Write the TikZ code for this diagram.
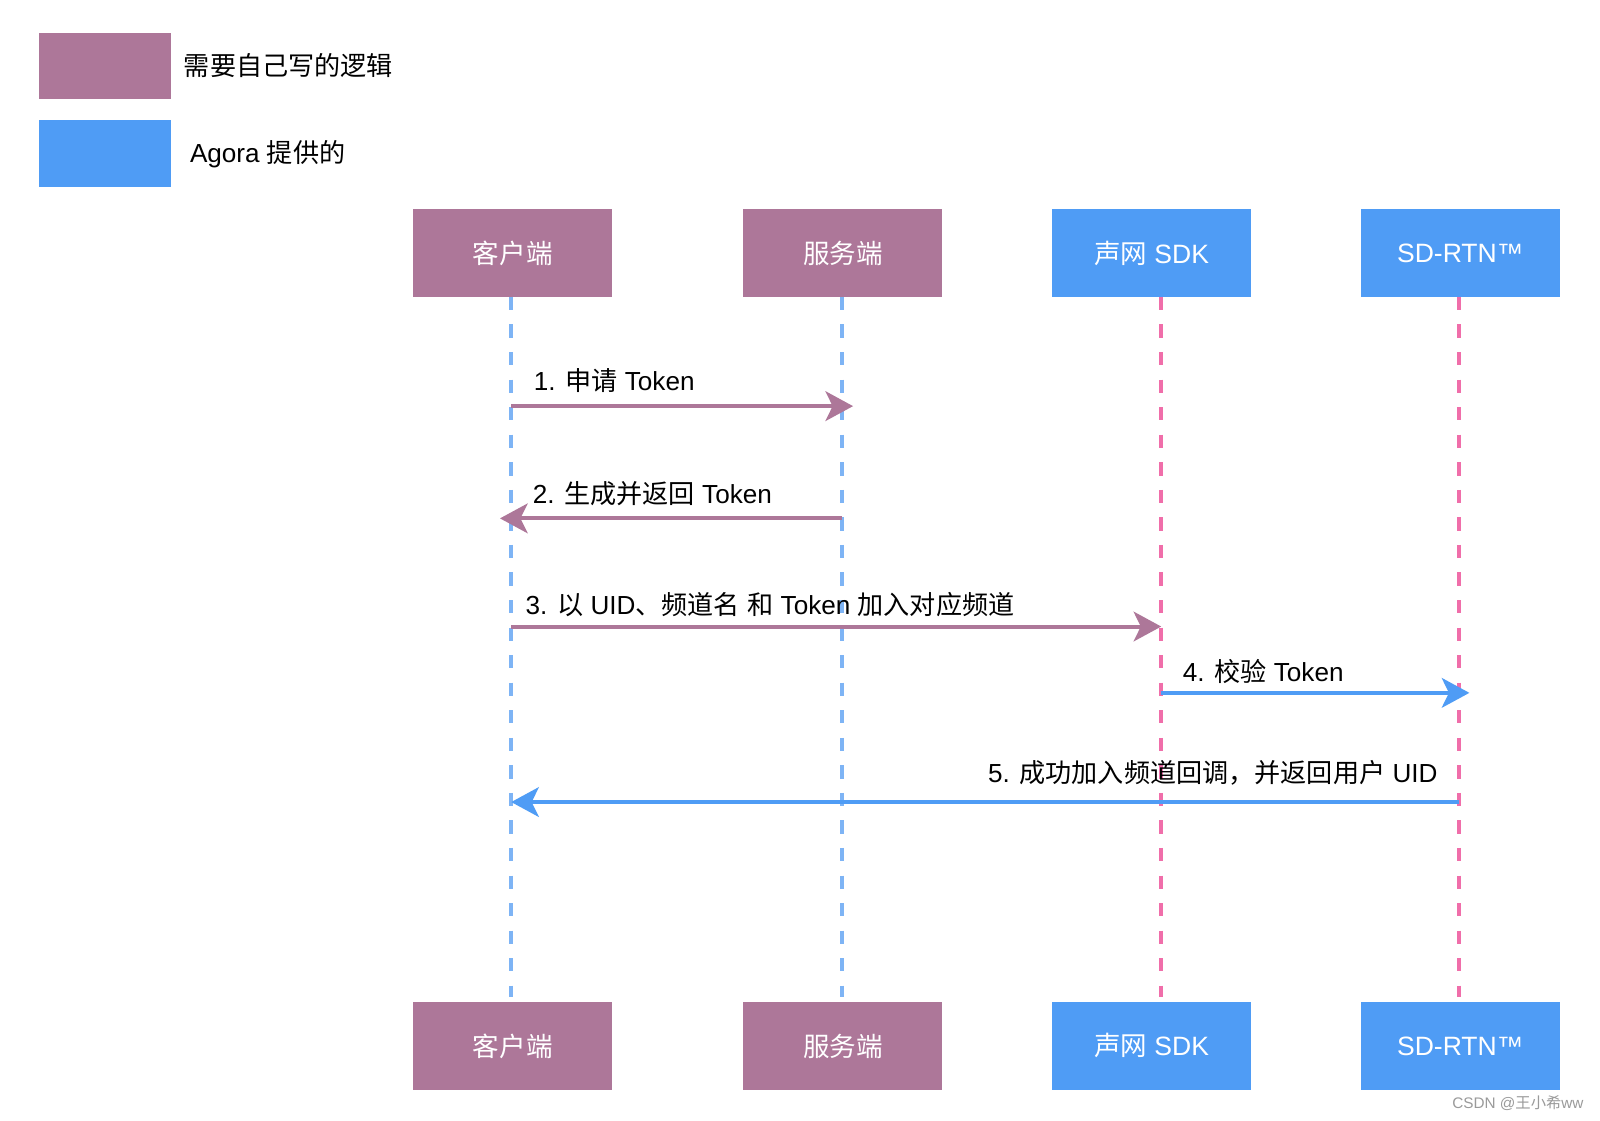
\documentclass[tikz,border=0pt]{standalone}
\usepackage{fontspec}
\setmainfont{Liberation Sans}
\newfontfamily\cjk{Noto Sans CJK SC}
\usetikzlibrary{arrows.meta}
\definecolor{mauve}{HTML}{AD7799}
\definecolor{sky}{HTML}{4F9CF5}
\definecolor{skylite}{HTML}{7EB4F5}
\definecolor{pinkl}{HTML}{F06EAA}
\definecolor{wmark}{HTML}{9A9A9A}
\tikzset{
  actor/.style={minimum width=195pt, minimum height=86pt, inner sep=0pt, text=white, font=\fontsize{26pt}{30pt}\selectfont},
  mbox/.style={actor, fill=mauve},
  bbox/.style={actor, fill=sky},
  legendbox/.style={minimum width=130pt, minimum height=65pt, inner sep=0pt},
  lifeb/.style={draw=skylite, line width=4.2pt, dash pattern=on 13pt off 14pt},
  lifep/.style={draw=pinkl, line width=4.2pt, dash pattern=on 13pt off 14pt},
  msg/.style={line width=4pt, -{Stealth[length=27pt, width=29pt, inset=7pt]}},
  lbl/.style={inner sep=0pt, font=\fontsize{25.6pt}{30pt}\selectfont, text=black},
}
\begin{document}
\begin{tikzpicture}[x=1pt, y=-1pt]
\useasboundingbox (0,0) rectangle (1568,1098);
\fill[white] (0,0) rectangle (1568,1098);

% legend
\node[legendbox, fill=mauve] (lg1) at (103,64.5) {};
\node[legendbox, fill=sky] (lg2) at (103,150.5) {};
\node[lbl, anchor=west] (lt1) at (180,64) {\cjk 需要自己写的逻辑};
\node[lbl, anchor=west] (lt2) at (186,151) {Agora {\cjk 提供的}};

% actors top
\node[mbox] (c1) at (502.5,248) {\cjk 客户端};
\node[mbox] (s1) at (826,248) {\cjk 服务端};
\node[bbox] (k1) at (1128.5,248) {{\cjk 声网} SDK};
\node[bbox] (r1) at (1431,248) {SD-RTN™};
% actors bottom
\node[mbox] (c2) at (502.5,1025) {\cjk 客户端};
\node[mbox] (s2) at (826,1025) {\cjk 服务端};
\node[bbox] (k2) at (1128.5,1025) {{\cjk 声网} SDK};
\node[bbox] (r2) at (1431,1025) {SD-RTN™};

% lifeline ends
\coordinate (cT) at (501,291);   \coordinate (cB) at (501,977);
\coordinate (sT) at (825,291);   \coordinate (sB) at (825,977);
\coordinate (kT) at (1138,291);  \coordinate (kB) at (1138,977);
\coordinate (rT) at (1430,291);  \coordinate (rB) at (1430,977);
\draw[lifeb] (cT) -- (cB);
\draw[lifeb] (sT) -- (sB);
\draw[lifep] (kT) -- (kB);
\draw[lifep] (rT) -- (rB);

% message end points
\coordinate (m1a) at (501,398);  \coordinate (m1b) at (836,398);
\coordinate (m2a) at (825,508);  \coordinate (m2b) at (490,508);
\coordinate (m3a) at (501,614);  \coordinate (m3b) at (1138,614);
\coordinate (m4a) at (1138,679); \coordinate (m4b) at (1440,679);
\coordinate (m5a) at (1430,786); \coordinate (m5b) at (501,786);

\draw[msg, draw=mauve, color=mauve] (m1a) -- (m1b);
\draw[msg, draw=mauve, color=mauve] (m2a) -- (m2b);
\draw[msg, draw=mauve, color=mauve] (m3a) -- (m3b);
\draw[msg, draw=sky, color=sky] (m4a) -- (m4b);
\draw[msg, draw=sky, color=sky] (m5a) -- (m5b);

\node[lbl, anchor=west] (t1) at (523,373) {1. {\cjk 申请} Token};
\node[lbl, anchor=west] (t2) at (522,484) {2. {\cjk 生成并返回} Token};
\node[lbl, anchor=west] (t3) at (515,592) {3. {\cjk 以} UID{\cjk 、频道名} {\cjk 和} Token {\cjk 加入对应频道}};
\node[lbl, anchor=west] (t4) at (1159,658) {4. {\cjk 校验} Token};
\node[lbl, anchor=east] (t5) at (1409,757) {5. {\cjk 成功加入频道回调，并返回用户} UID};

% watermark
\node[inner sep=0pt, anchor=east, text=wmark, font=\fontsize{15pt}{17pt}\selectfont] (wm) at (1552,1081) {CSDN @{\cjk 王小希}ww};
\end{tikzpicture}
\end{document}
